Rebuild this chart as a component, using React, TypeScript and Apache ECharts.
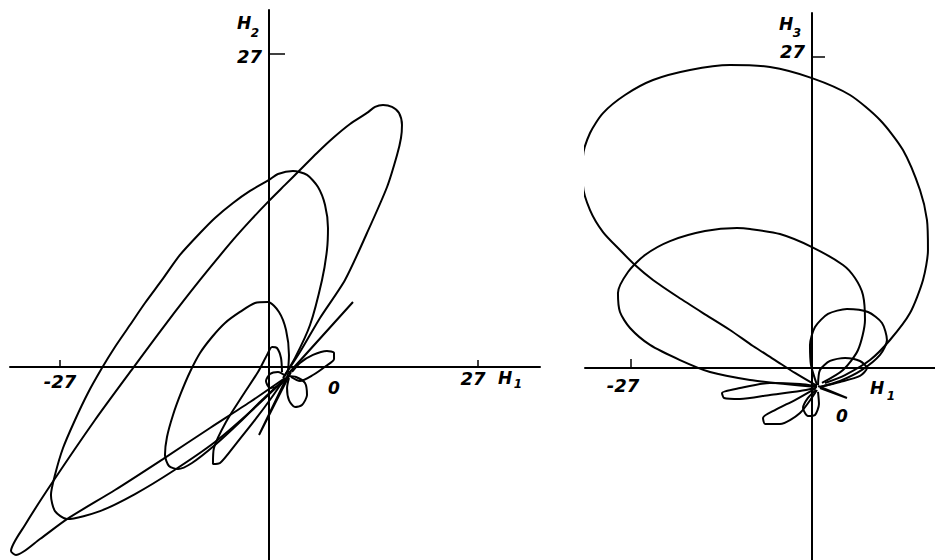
import React, { useEffect, useRef } from "react";
import * as echarts from "echarts";

// ---------- Left panel (H1 horizontal, H2 vertical) ----------
const leftLoopA: number[][] = [
  [2.07, -0.69], [4.0, 1.29], [6.59, 4.23], [9.82, 7.51], [12.66, 11.56], [15.25, 15.53],
  [16.54, 18.29], [17.05, 19.76], [17.18, 20.88], [16.8, 21.92], [15.89, 22.44], [14.73, 22.61],
  [13.7, 22.44], [12.66, 21.92], [10.47, 20.97], [8.27, 19.76], [6.2, 18.47], [4.0, 17.0],
  [2.07, 15.71], [0, 14.33], [-2.33, 12.69], [-4.65, 10.96], [-8.91, 7.51], [-13.44, 3.62],
  [-17.57, -0.09], [-22.48, -4.57], [-28.04, -10.01], [-31.52, -13.63], [-33.33, -15.88],
  [-32.69, -16.22], [-29.59, -14.84], [-26.1, -13.12], [-19.9, -10.61], [-13.7, -7.94],
  [-7.62, -5.26], [-2.45, -3.02], [2.07, -0.95],
];
const leftLoopB: number[][] = [
  [1.81, -0.95], [3.36, 0.78], [5.3, 3.62], [6.85, 7.51], [7.49, 10.1], [7.62, 12.0],
  [7.24, 13.98], [6.33, 15.53], [4.91, 16.57], [3.1, 16.91], [1.16, 16.65], [0, 16.14],
  [-2.45, 15.19], [-4.65, 14.15], [-6.98, 12.86], [-8.91, 11.56], [-11.5, 9.67], [-13.82, 7.51],
  [-16.02, 5.52], [-17.96, 3.62], [-19.9, 1.73], [-21.58, -0.09], [-23.39, -2.24], [-25.06, -4.57],
  [-26.61, -6.99], [-27.65, -9.32], [-28.17, -11.05], [-27.65, -12.43], [-26.1, -13.12],
  [-21.83, -12.43], [-17.31, -10.96], [-12.4, -8.97], [-6.98, -6.47], [-2.45, -3.88], [1.81, -1.21],
];
const leftLoopC: number[][] = [
  [2.45, -0.43], [2.58, 1.04], [2.2, 3.19], [1.29, 4.75], [-0.13, 5.61], [-1.81, 5.52],
  [-3.75, 4.75], [-5.68, 3.8], [-7.36, 2.59], [-8.91, 1.21], [-10.21, -0.43], [-11.37, -2.24],
  [-12.4, -4.14], [-13.18, -6.04], [-13.44, -7.59], [-12.92, -8.54], [-11.76, -8.8], [-9.95, -8.28],
  [-6.98, -6.73], [-3.75, -4.75], [-0.9, -2.85], [2.2, -0.95],
];
const leftLoopD: number[][] = [
  [1.68, -0.43], [1.55, 0.78], [1.03, 1.64], [0.39, 1.73], [-0.26, 1.04], [-1.42, -0.43],
  [-3.36, -2.42], [-5.56, -4.75], [-7.11, -6.99], [-7.24, -8.37], [-6.33, -8.28], [-4.39, -6.73],
  [-1.81, -4.57], [0.39, -2.59], [2.07, -0.95],
];
const leftSmallLoop: number[][] = [
  [2.2, -0.78], [1.16, -0.43], [0.13, -0.6], [-0.39, -1.21], [0.13, -1.81], [1.29, -1.64], [2.2, -0.95],
];
const leftCircle: number[][] = [
  [2.45, -0.78], [3.49, -0.86], [4.65, -1.38], [4.91, -2.42], [4.26, -3.28], [3.36, -3.45],
  [2.58, -2.85], [2.33, -1.81], [2.58, -0.95],
];
const leftPetal: number[][] = [
  [2.97, -0.43], [4.0, 0.35], [5.68, 1.04], [7.49, 1.38], [8.4, 1.21], [8.4, 0.69],
  [7.36, 0.09], [5.68, -0.69], [4.0, -1.21], [2.84, -0.86],
];
const leftSpikeUp: number[][] = [[2.33, -0.69], [10.85, 5.61], [2.58, -0.52]];
const leftSpikeDown: number[][] = [[2.84, -0.43], [-1.29, -5.87], [2.45, -0.69]];

// ---------- Right panel (H1 horizontal, H3 vertical) ----------
const rightLoopA: number[][] = [
  [1.94, -1.3], [4.93, -0.61], [8.66, 0.69], [11.64, 2.43], [14.63, 4.77], [16.57, 7.64],
  [17.31, 10.24], [17.16, 12.85], [16.12, 15.45], [13.58, 18.92], [10.15, 21.53], [5.67, 23.7],
  [0, 25.17], [-6.27, 26.13], [-12.24, 26.3], [-18.21, 25.87], [-23.73, 25.0], [-27.91, 23.7],
  [-31.19, 22.13], [-33.13, 20.4], [-34.18, 18.31], [-34.18, 15.88], [-33.13, 13.71],
  [-31.19, 11.8], [-28.66, 10.24], [-26.42, 8.94], [-23.73, 7.64], [-20.0, 6.16], [-16.27, 4.77],
  [-12.24, 3.3], [-8.81, 1.91], [-5.52, 0.69], [-2.54, -0.43], [0.75, -1.56],
];
const rightLoopB: number[][] = [
  [1.49, -1.3], [4.63, -0.17], [6.87, 1.56], [7.91, 4.17], [7.61, 6.34], [6.42, 7.81],
  [4.63, 8.94], [0, 10.5], [-4.78, 11.63], [-9.25, 12.07], [-11.19, 12.15], [-15.97, 11.89],
  [-21.19, 11.02], [-24.93, 9.81], [-27.46, 8.33], [-28.96, 6.51], [-28.66, 4.86], [-27.16, 3.47],
  [-24.18, 2.0], [-19.7, 0.69], [-15.22, -0.35], [-9.25, -1.04], [-4.03, -1.39], [0.75, -1.65],
];
const rightLoopC: number[][] = [
  [0.75, -1.48], [-0.15, 0.26], [-0.3, 2.0], [0.45, 3.56], [2.39, 4.69], [5.22, 5.12],
  [8.36, 4.86], [10.45, 3.91], [11.19, 2.43], [10.15, 1.13], [7.46, -0.17], [4.18, -1.13], [1.19, -1.65],
];
const rightLoopD: number[][] = [
  [0.9, -1.48], [1.19, -0.17], [2.69, 0.61], [4.93, 0.87], [7.16, 0.61], [8.21, 0],
  [7.16, -0.69], [4.18, -1.22], [1.19, -1.65],
];
const rightPetalLeft: number[][] = [
  [0.45, -1.56], [-1.79, -1.39], [-6.27, -1.3], [-10.75, -1.74], [-13.43, -2.17], [-13.13, -2.6],
  [-10.75, -2.69], [-6.27, -2.34], [-1.79, -2.0], [0.6, -1.74],
];
const rightPetalDown: number[][] = [
  [0.6, -1.74], [-2.54, -2.78], [-5.52, -3.65], [-7.31, -4.34], [-7.01, -4.86], [-4.78, -4.86],
  [-1.79, -3.91], [0.75, -1.91],
];
const rightSmallLoop: number[][] = [
  [0.6, -1.91], [-0.6, -2.6], [-1.34, -3.47], [-0.6, -4.17], [0.45, -4.08], [1.04, -3.13], [0.9, -2.08],
];
const rightSpike: number[][] = [[0.9, -1.56], [5.22, -2.6], [1.19, -1.74]];

// ---------- Tick values ----------
const leftXTicks = [-27, 27];
const leftYTicks = [27];
const rightXTicks = [-27];
const rightYTicks = [27];

export default function App() {
  const ref = useRef<HTMLDivElement>(null);
  useEffect(() => {
    if (!ref.current) return;
    const chart = echarts.init(ref.current, null, { renderer: "svg" });
    const fam = "DejaVu Sans";
    const line = (data: number[][], gi: number, smooth: number | boolean = 0.25) => ({
      type: "line",
      xAxisIndex: gi,
      yAxisIndex: gi,
      data,
      symbol: "none",
      showSymbol: false,
      smooth,
      clip: false,
      silent: true,
      lineStyle: { color: "#000", width: 2 },
    });
    const axis = (gi: number, min: number, max: number, ticks: number[], len: number) => ({
      type: "value",
      gridIndex: gi,
      min,
      max,
      splitLine: { show: false },
      axisLine: { show: true, onZero: true, lineStyle: { color: "#000", width: 2 } },
      axisTick: { show: true, inside: true, length: len, customValues: ticks, lineStyle: { color: "#000", width: 1.5 } },
      axisLabel: { show: false },
    });
    const txt = (text: string, x: number, y: number, size: number, align = "center") => ({
      type: "text",
      x,
      y,
      silent: true,
      style: {
        text,
        fontSize: size,
        fontFamily: fam,
        fontStyle: "italic",
        fontWeight: "bold",
        fill: "#000",
        textAlign: align,
        textVerticalAlign: "middle",
      },
    });
    chart.setOption({
      animation: false,
      backgroundColor: "#fff",
      grid: [
        { left: 10, top: 10, width: 530, height: 550, containLabel: false, outerBoundsMode: "none" },
        { left: 585, top: 13, width: 350, height: 547, containLabel: false, outerBoundsMode: "none" },
      ],
      xAxis: [axis(0, -33.46, 35.01, leftXTicks, 7), axis(1, -33.88, 18.36, rightXTicks, 9)],
      yAxis: [axis(0, -16.65, 30.8, leftYTicks, 16), axis(1, -16.67, 30.82, rightYTicks, 13)],
      series: [
        line(leftLoopA, 0),
        line(leftLoopB, 0),
        line(leftLoopC, 0),
        line(leftLoopD, 0),
        line(leftSmallLoop, 0),
        line(leftCircle, 0),
        line(leftPetal, 0),
        line(leftSpikeUp, 0, false),
        line(leftSpikeDown, 0, false),
        line(rightLoopA, 1),
        line(rightLoopB, 1),
        line(rightLoopC, 1),
        line(rightLoopD, 1),
        line(rightPetalLeft, 1),
        line(rightPetalDown, 1),
        line(rightSmallLoop, 1),
        line(rightSpike, 1, false),
      ],
      graphic: [
        txt("H", 244, 23, 17),
        txt("2", 255, 33, 12),
        txt(String(leftYTicks[0]), 262, 56, 18, "right"),
        txt("-" + String(-leftXTicks[0]), 60, 381, 18),
        txt(String(leftXTicks[1]), 473, 378, 18),
        txt("H", 505, 378, 17),
        txt("1", 518, 384, 12),
        txt("0", 334, 388, 17),
        txt("H", 786, 24, 17),
        txt("3", 797, 33, 12),
        txt(String(rightYTicks[0]), 805, 51, 18, "right"),
        txt("-" + String(-rightXTicks[0]), 623, 385, 18),
        txt("H", 877, 388, 17),
        txt("1", 891, 396, 12),
        txt("0", 842, 416, 17),
      ],
    });
    return () => chart.dispose();
  }, []);
  return (
    <div
      ref={ref}
      style={{ position: "fixed", left: 0, top: 0, width: 935, height: 560, background: "#fff" }}
    />
  );
}
